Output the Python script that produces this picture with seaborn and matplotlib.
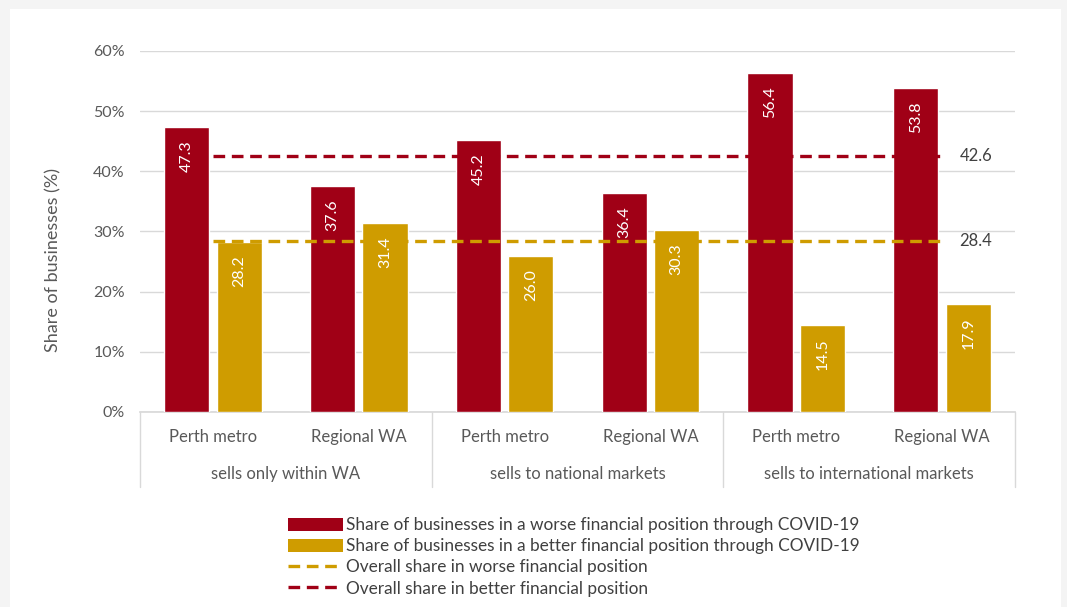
import matplotlib
matplotlib.use("Agg")
import matplotlib.pyplot as plt
import matplotlib.patches as mpatches
import matplotlib.lines as mlines
import matplotlib.transforms as mtransforms
import numpy as np
import pandas as pd
import seaborn as sns

# ---- data ----
markets = ["sells only within WA", "sells to national markets", "sells to international markets"]
regions = ["Perth metro", "Regional WA"]
worse = [47.3, 37.6, 45.2, 36.4, 56.4, 53.8]
better = [28.2, 31.4, 26.0, 30.3, 14.5, 17.9]
overall_worse = 28.4
overall_better = 42.6
series_names = [
    "Share of businesses in a worse financial position through COVID-19",
    "Share of businesses in a better financial position through COVID-19",
]
line_names = [
    "Overall share in worse financial position",
    "Overall share in better financial position",
]
yticks = [0, 10, 20, 30, 40, 50, 60]

RED = "#A00016"
GOLD = "#CF9C00"
GRID = "#D9D9D9"
TXT = "#595959"
FS = 12

sns.set_theme(style="white")
plt.rcParams["font.family"] = ["Lato", "DejaVu Sans"]

groups = [f"{m}|{r}" for m in markets for r in regions]
df = pd.DataFrame({
    "group": groups * 2,
    "value": worse + better,
    "series": [series_names[0]] * len(groups) + [series_names[1]] * len(groups),
})

fig = plt.figure(figsize=(10.67, 6.07), dpi=100, facecolor="#F4F4F4")
fig.patches.append(mpatches.Rectangle((0.009, 0.0), 0.985, 0.985, transform=fig.transFigure,
                                      facecolor="white", edgecolor="none", zorder=-10))
ax = fig.add_axes([0.1312, 0.3213, 0.8201, 0.5947])
ax.set_facecolor("none")

sns.barplot(data=df, x="group", y="value", hue="series", order=groups,
            hue_order=series_names, palette=[RED, GOLD], saturation=1,
            width=0.72, gap=0.14, ax=ax, legend=False, zorder=3)

ax.set_ylim(0, 60)
ax.set_xlim(-0.5, len(groups) - 0.5)
ax.set_yticks(yticks)
ax.set_yticklabels([f"{t}%" for t in yticks], color=TXT, fontsize=FS - 0.5)
ax.tick_params(axis="y", length=0, pad=11)
ax.yaxis.grid(True, color=GRID, linewidth=1)
ax.set_axisbelow(True)
for s in ["top", "right", "left"]:
    ax.spines[s].set_visible(False)
ax.spines["bottom"].set_color(GRID)
ax.set_xlabel("")
ax.set_ylabel("Share of businesses (%)", color=TXT, fontsize=13)
ax.yaxis.set_label_coords(-0.09, 0.42)
ax.set_xticks(range(len(groups)))
ax.set_xticklabels([])
ax.tick_params(axis="x", length=0)

# value labels inside bar ends
for cont in ax.containers:
    for bar in cont:
        h = bar.get_height()
        ax.text(bar.get_x() + bar.get_width() / 2, h - 2.2, f"{h:.1f}",
                rotation=90, ha="center", va="top", color="white", fontsize=FS - 0.5, zorder=5)

# overall reference lines
x0, x1 = 0, len(groups) - 1
ax.plot([x0, x1], [overall_better, overall_better], color=RED, lw=2.4,
        dashes=(3.5, 2), zorder=4)
ax.plot([x0, x1], [overall_worse, overall_worse], color=GOLD, lw=2.4,
        dashes=(3.5, 2), zorder=4)
for v in (overall_better, overall_worse):
    ax.text(5.23, v, f"{v:.1f}", color="#404040", fontsize=FS, ha="center", va="center")

# two-level category axis
trans = mtransforms.blended_transform_factory(ax.transData, ax.transAxes)
for xb in [-0.5, 1.5, 3.5, 5.5]:
    ax.plot([xb, xb], [0, -0.208], color=GRID, lw=1, transform=trans, clip_on=False)
for i, g in enumerate(groups):
    ax.text(i, -0.07, g.split("|")[1], transform=trans, ha="center", va="center",
            color=TXT, fontsize=FS)
for j, m in enumerate(markets):
    ax.text(2 * j + 0.5, -0.172, m, transform=trans, ha="center", va="center",
            color=TXT, fontsize=FS)

# legend
handles = [
    mpatches.Patch(facecolor=RED, edgecolor="none"),
    mpatches.Patch(facecolor=GOLD, edgecolor="none"),
    mlines.Line2D([], [], color=GOLD, lw=2.4, dashes=(3.5, 2)),
    mlines.Line2D([], [], color=RED, lw=2.4, dashes=(3.5, 2)),
]
leg = fig.legend(handles, series_names + line_names, loc="upper left",
                 bbox_to_anchor=(0.27, 0.148), frameon=False, fontsize=FS + 0.4,
                 handlelength=3.2, handleheight=0.8, handletextpad=0.15,
                 labelspacing=0.3, borderpad=0, borderaxespad=0)
for t in leg.get_texts():
    t.set_color("#404040")

fig.savefig("out.png", dpi=100, facecolor=fig.get_facecolor())
